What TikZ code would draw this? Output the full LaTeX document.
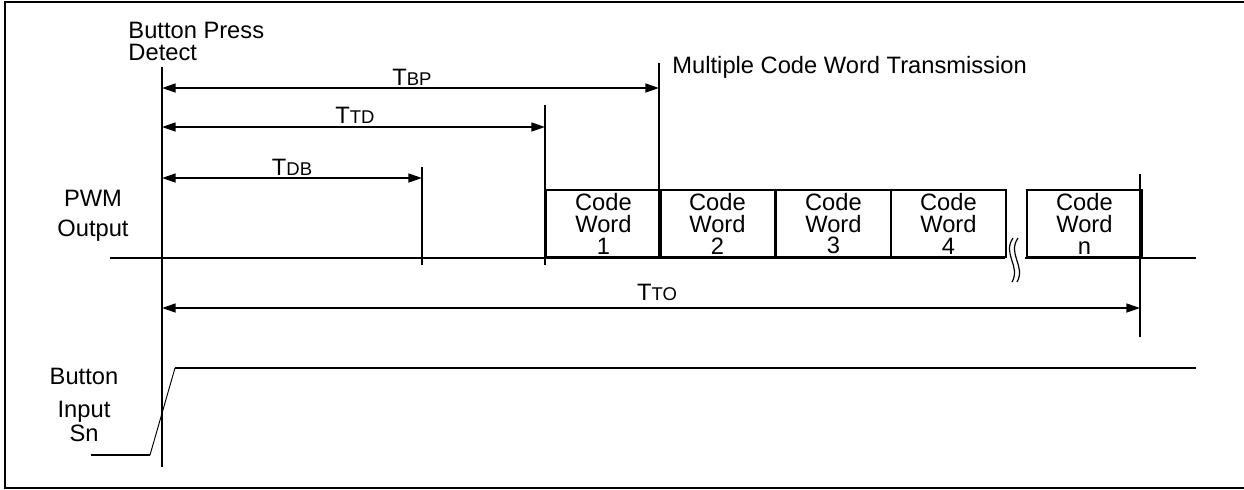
\documentclass[tikz,border=0pt]{standalone}
\usepackage{fontspec}
\setmainfont{Liberation Sans}
\usetikzlibrary{arrows.meta}

\begin{document}
\begin{tikzpicture}[
    x=0.422pt,
    y=-0.422pt,
    signal/.style={
        line width=0.7pt
    },
    marker/.style={
        line width=0.7pt
    },
    dim arrow/.style={
        line width=0.7pt,
        {Triangle[length=5.8pt,width=3.8pt]}-{Triangle[length=5.8pt,width=3.8pt]}
    },
    side label/.style={
        font=\fontsize{10}{12.6}\selectfont,
        inner sep=0pt,
        align=center
    },
    dim label/.style={
        font=\fontsize{10}{11}\selectfont,
        inner sep=0pt,
        anchor=base
    },
    code word/.style={
        draw,
        line width=0.7pt,
        anchor=south west,
        minimum width=48.6pt,
        minimum height=28.3pt,
        inner sep=0pt,
        align=center,
        font=\fontsize{10}{9.2}\selectfont
    }
]

\newcommand{\sub}[1]{{\fontsize{7.8}{8}\selectfont #1}}

% Page frame (right side runs off the page)
\useasboundingbox (0,0) rectangle (1244,489);
\draw[line width=0.6pt] (5,2) rectangle (1260,488);

% Time markers
\coordinate (detect top) at (162,67);
\coordinate (detect bot) at (162,467);
\coordinate (db top) at (422,167);
\coordinate (db bot) at (422,265);
\coordinate (td top) at (545,105);
\coordinate (td bot) at (545,265);
\coordinate (bp top) at (659,63);
\coordinate (bp bot) at (659,258);
\coordinate (to top) at (1140,174);
\coordinate (to bot) at (1140,337);

\draw[marker] (detect top) -- (detect bot);
\draw[marker] (db top) -- (db bot);
\draw[marker] (td top) -- (td bot);
\draw[marker] (bp top) -- (bp bot);
\draw[marker] (to top) -- (to bot);

% Labels
\node[side label, anchor=north west, align=left, font=\fontsize{10}{9.3}\selectfont] (detect lbl) at (128,22) {Button Press\\Detect};
\node[side label, anchor=base west] (mcw lbl) at (672,73) {Multiple Code Word Transmission};
\node[side label, anchor=north] (pwm lbl) at (93,190) {PWM\\Output};
\node[side label, anchor=north, font=\fontsize{10}{8.9}\selectfont] (sn lbl) at (84,368) {Button\\[5pt]Input\\Sn};

% Timing arrows
\coordinate (bp l) at (162,88);
\coordinate (bp r) at (659,88);
\coordinate (td l) at (162,127);
\coordinate (td r) at (545,127);
\coordinate (db l) at (162,178);
\coordinate (db r) at (422,178);
\coordinate (to l) at (162,308);
\coordinate (to r) at (1140,308);

\draw[dim arrow] (bp l) -- (bp r);
\draw[dim arrow] (td l) -- (td r);
\draw[dim arrow] (db l) -- (db r);
\draw[dim arrow] (to l) -- (to r);

\node[dim label] (bp lbl) at (412,85) {T\sub{BP}};
\node[dim label] (td lbl) at (355,123) {T\sub{TD}};
\node[dim label] (db lbl) at (292,175) {T\sub{DB}};
\node[dim label] (to lbl) at (657,300) {T\sub{TO}};

% PWM output line
\coordinate (pwm start) at (110,258);
\coordinate (pwm brk l) at (1005,258);
\coordinate (pwm brk r) at (1025,258);
\coordinate (pwm end) at (1196,258);
\draw[signal] (pwm start) -- (pwm brk l);
\draw[signal] (pwm brk r) -- (pwm end);

% Code words
\node[code word] (cw1) at (545,258) {Code\\Word\\1};
\node[code word] (cw2) at (659,258) {Code\\Word\\2};
\node[code word] (cw3) at (775,258) {Code\\Word\\3};
\node[code word] (cw4) at (890,258) {Code\\Word\\4};
\node[code word] (cwn) at (1026,258) {Code\\Word\\n};

% Break mark
\draw[line width=0.5pt] (1013,238) .. controls (1002,254) and (1021,266) .. (1012,282);
\draw[line width=0.5pt] (1018,238) .. controls (1007,254) and (1026,266) .. (1017,282);

% Button input Sn
\coordinate (sn low l) at (91,455);
\coordinate (sn low r) at (150,455);
\coordinate (sn high l) at (175,368);
\coordinate (sn high r) at (1196,368);
\draw[signal] (sn low l) -- (sn low r);
\draw[line width=0.4pt] (sn low r) -- (sn high l);
\draw[signal] (sn high l) -- (sn high r);

\end{tikzpicture}
\end{document}
